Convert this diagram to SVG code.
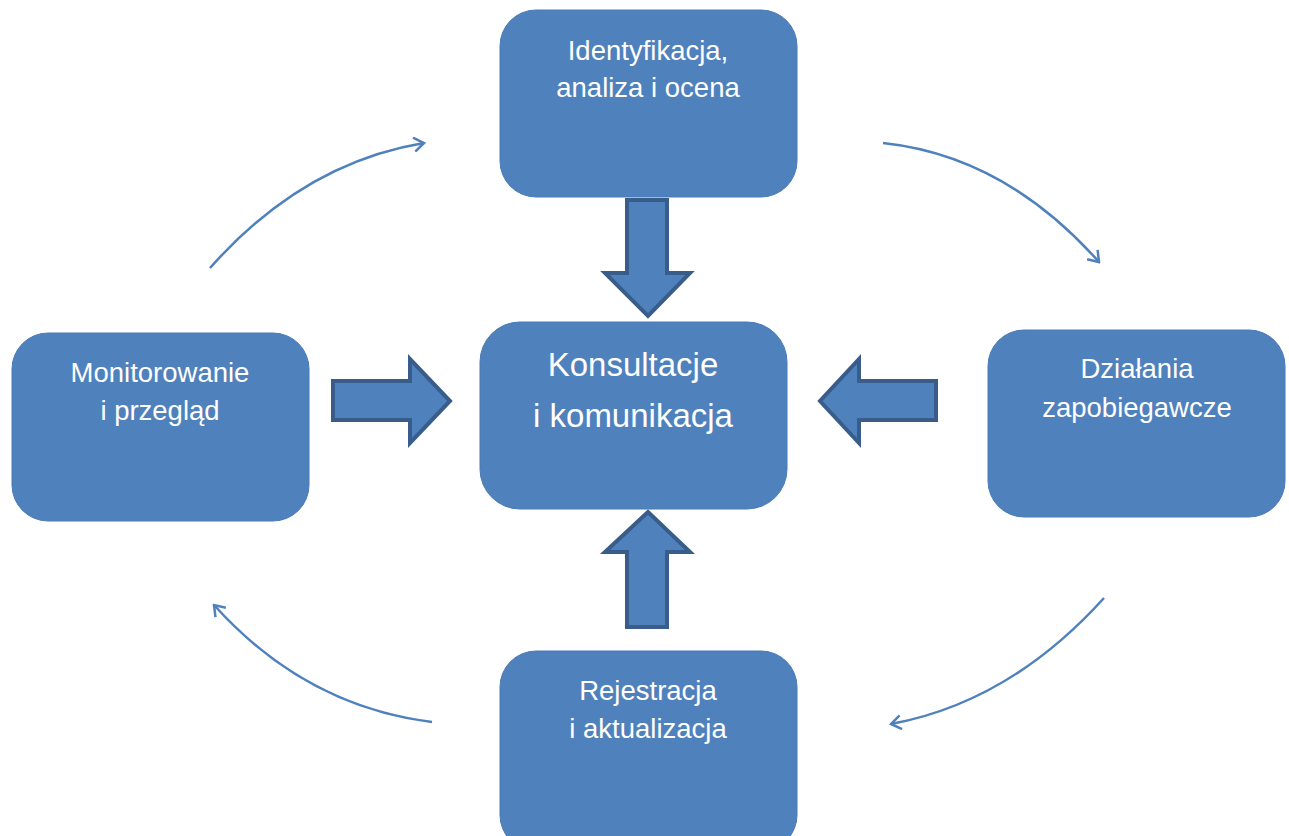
<svg xmlns="http://www.w3.org/2000/svg" width="1289" height="836" viewBox="0 0 1289 836">
<style>
.box{fill:#4F81BD;stroke:#4A7AB5;stroke-width:1}
.blk{fill:#4F81BD;stroke:#385D8A;stroke-width:4;stroke-linejoin:miter}
.t{font-family:"Liberation Sans",Arial,sans-serif;fill:#fff;text-anchor:middle;font-size:27.5px}
.tc{font-size:33px}
.cv{fill:none;stroke:#4F81BD;stroke-width:2.5;marker-end:url(#ch)}
</style>
<defs>
<marker id="ch" viewBox="-12 -8 14 16" refX="0" refY="0" markerWidth="14" markerHeight="16" markerUnits="userSpaceOnUse" orient="auto">
<path d="M-10,-7 L0,0 L-10,7" fill="none" stroke="#4F81BD" stroke-width="2.5"/>
</marker>
</defs>
<g id="connectors">
<path class="cv" d="M210,268 Q303,163 424,143"/>
<path class="cv" d="M883,143 Q1005,156 1099,262"/>
<path class="cv" d="M1104,598 Q1010,702 891,724"/>
<path class="cv" d="M432,722 Q305,706 214,605"/>
<path class="blk" d="M627,200 H667 V273 H690 L648,316 L605,273 H627 Z"/>
<path class="blk" d="M627,627 H667 V552 H690 L648,512 L605,552 H627 Z"/>
<path class="blk" d="M333,381 H410 V359 L450,401 L410,443 V420 H333 Z"/>
<path class="blk" d="M936,381 H859 V359 L820,401 L859,443 V420 H936 Z"/>
</g>
<g id="node-top">
<rect class="box" x="500" y="10" width="297" height="187" rx="36"/>
<text class="t" x="648" y="60">Identyfikacja,</text>
<text class="t" x="648" y="97">analiza i ocena</text>
</g>
<g id="node-center">
<rect class="box" x="480" y="322" width="307" height="187" rx="40"/>
<text class="t tc" x="633" y="376">Konsultacje</text>
<text class="t tc" x="633" y="427">i komunikacja</text>
</g>
<g id="node-left">
<rect class="box" x="12" y="333" width="297" height="188" rx="36"/>
<text class="t" x="160" y="382">Monitorowanie</text>
<text class="t" x="160" y="420">i przegląd</text>
</g>
<g id="node-right">
<rect class="box" x="988" y="330" width="297" height="187" rx="36"/>
<text class="t" x="1137" y="378">Działania</text>
<text class="t" x="1137" y="417">zapobiegawcze</text>
</g>
<g id="node-bottom">
<rect class="box" x="500" y="651" width="297" height="200" rx="36"/>
<text class="t" x="648" y="700">Rejestracja</text>
<text class="t" x="648" y="738">i aktualizacja</text>
</g>
</svg>
